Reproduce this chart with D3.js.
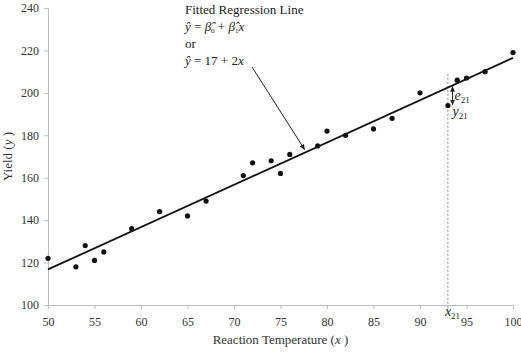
<!DOCTYPE html>
<html>
  <head>
    <meta charset="utf-8" />
    <script src="https://d3js.org/d3.v7.min.js"></script>
    <style>
      body { margin: 0; background: #fff; font-family: 'Liberation Serif', serif; }
      .domain { stroke: #bdbdbd; }
      .tick line { stroke: #bdbdbd; }
      .tick text { fill: #333; font-size: 12px; font-family: 'Liberation Serif', serif; }
      .lbl { fill: #333; font-size: 13px; }
      .note { fill: #222; font-size: 13px; }
    </style>
  </head>
  <body>
    <script>
      // data
      const temperature = [50, 53, 54, 55, 56, 59, 62, 65, 67, 71, 72, 74, 75, 76, 79, 80, 82, 85, 87, 90, 93, 94, 95, 97, 100];
      const yieldValues = [122, 118, 128, 121, 125, 136, 144, 142, 149, 161, 167, 168, 162, 171, 175, 182, 180, 183, 188, 200, 194, 206, 207, 210, 219];
      const xTicks = [50, 55, 60, 65, 70, 75, 80, 85, 90, 95, 100];
      const yTicks = [100, 120, 140, 160, 180, 200, 220, 240];
      const b0 = 17.0016, b1 = 1.9952;
      const highlight = 20; // index of the 21st observation

      const width = 521, height = 352;
      const margin = { left: 48, right: 8, top: 8, bottom: 47 };

      const svg = d3.select('body').append('svg')
        .attr('width', width).attr('height', height);

      const x = d3.scaleLinear().domain([50, 100]).range([margin.left, width - margin.right]);
      const y = d3.scaleLinear().domain([100, 240]).range([height - margin.bottom, margin.top]);

      const defs = svg.append('defs');
      defs.append('marker').attr('id', 'ah')
        .attr('viewBox', '0 0 10 10').attr('refX', 9).attr('refY', 5)
        .attr('markerWidth', 6).attr('markerHeight', 6).attr('orient', 'auto-start-reverse')
        .append('path').attr('d', 'M0,1L10,5L0,9z').attr('fill', '#222');

      svg.append('g')
        .attr('transform', `translate(0,${y(100)})`)
        .call(d3.axisBottom(x).tickValues(xTicks).tickSize(4).tickPadding(8));

      svg.append('g')
        .attr('transform', `translate(${x(50)},0)`)
        .call(d3.axisLeft(y).tickValues(yTicks).tickSize(4).tickPadding(5));

      svg.append('text').attr('class', 'lbl')
        .attr('x', (x(50) + x(100)) / 2).attr('y', 344)
        .attr('text-anchor', 'middle')
        .call(t => {
          t.append('tspan').text('Reaction Temperature (');
          t.append('tspan').attr('font-style', 'italic').text('x');
          t.append('tspan').text(' )');
        });

      svg.append('text').attr('class', 'lbl')
        .attr('transform', `translate(12,${(y(100) + y(240)) / 2}) rotate(-90)`)
        .attr('text-anchor', 'middle')
        .call(t => {
          t.append('tspan').text('Yield (');
          t.append('tspan').attr('font-style', 'italic').text('y');
          t.append('tspan').text(' )');
        });

      // dotted guide at x21
      const x21 = temperature[highlight];
      svg.append('line')
        .attr('x1', x(x21)).attr('x2', x(x21))
        .attr('y1', y(209)).attr('y2', y(98))
        .attr('stroke', '#888').attr('stroke-width', 1).attr('stroke-dasharray', '2,2');

      // fitted line
      svg.append('line')
        .attr('x1', x(50)).attr('y1', y(b0 + b1 * 50))
        .attr('x2', x(100)).attr('y2', y(b0 + b1 * 100))
        .attr('stroke', '#111').attr('stroke-width', 1.8);

      svg.selectAll('circle.pt')
        .data(temperature.map((t, i) => ({ t, v: yieldValues[i] })))
        .join('circle').attr('class', 'pt')
        .attr('cx', d => x(d.t)).attr('cy', d => y(d.v))
        .attr('r', 2.6).attr('fill', '#111');

      // residual arrow
      const ax = x(x21 + 0.5);
      svg.append('line')
        .attr('x1', ax).attr('x2', ax)
        .attr('y1', y(b0 + b1 * x21 + 0.5)).attr('y2', y(yieldValues[highlight] + 0.3))
        .attr('stroke', '#222').attr('stroke-width', 1)
        .attr('marker-start', 'url(#ah)').attr('marker-end', 'url(#ah)');

      const sub = (main, s, px, py) => {
        const t = svg.append('text').attr('class', 'note').attr('x', px).attr('y', py);
        t.append('tspan').attr('font-style', 'italic').attr('font-size', 14).text(main);
        t.append('tspan').attr('dy', 3).attr('font-size', 9).text(s);
        return t;
      };
      sub('e', '21', ax + 2, 100);
      sub('y', '21', ax, 116);
      sub('x', '21', x(x21) - 3, 316);

      // annotation
      svg.append('text').attr('class', 'note').attr('x', 185).attr('y', 14).text('Fitted Regression Line');
      const l2 = svg.append('text').attr('class', 'note').attr('x', 185).attr('y', 31);
      l2.append('tspan').attr('font-style', 'italic').text('ŷ');
      l2.append('tspan').text(' = ');
      l2.append('tspan').attr('font-style', 'italic').text('β\u0302');
      l2.append('tspan').attr('dy', 2).attr('font-size', 7).text('0');
      l2.append('tspan').attr('dy', -2).text(' + ');
      l2.append('tspan').attr('font-style', 'italic').text('β\u0302');
      l2.append('tspan').attr('dy', 2).attr('font-size', 7).text('1');
      l2.append('tspan').attr('dy', -2).attr('font-style', 'italic').text('x');
      svg.append('text').attr('class', 'note').attr('x', 185).attr('y', 48).text('or');
      const l4 = svg.append('text').attr('class', 'note').attr('x', 185).attr('y', 65);
      l4.append('tspan').attr('font-style', 'italic').text('ŷ');
      l4.append('tspan').text(' = 17 + 2');
      l4.append('tspan').attr('font-style', 'italic').text('x');

      svg.append('line')
        .attr('x1', 252).attr('y1', 67)
        .attr('x2', x(77.6)).attr('y2', y(b0 + b1 * 77.6) - 3)
        .attr('stroke', '#222').attr('stroke-width', 1)
        .attr('marker-end', 'url(#ah)');
    </script>
  </body>
</html>
